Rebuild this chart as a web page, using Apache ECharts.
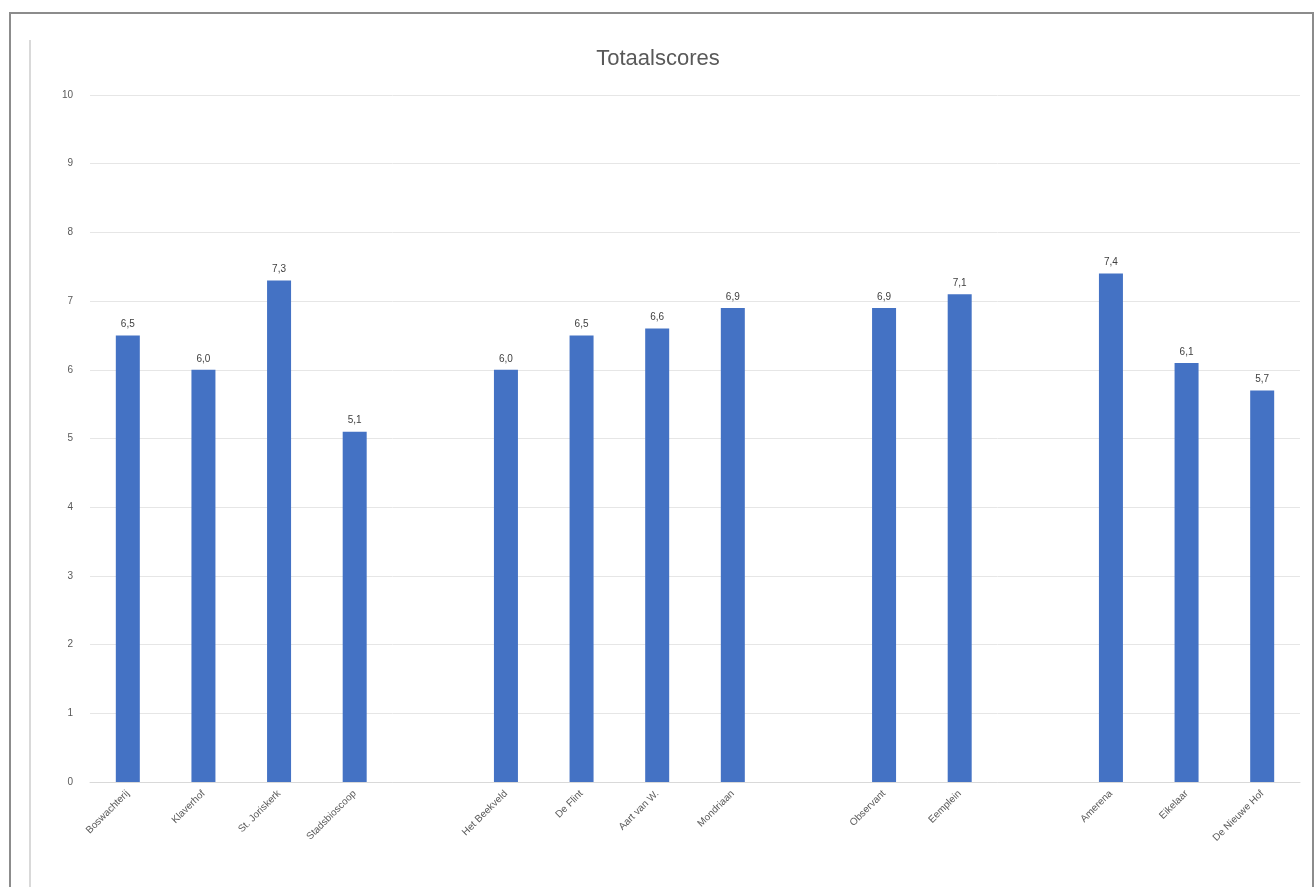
<!DOCTYPE html>
<html>
<head>
<meta charset="utf-8">
<script src="https://cdn.jsdelivr.net/npm/echarts@6/dist/echarts.min.js"></script>
<style>
html,body{margin:0;padding:0;background:#fff;}
#c{width:1316px;height:887px;}
</style>
</head>
<body>
<div id="c"></div>
<script>
const categories = ["Boswachterij","Klaverhof","St. Joriskerk","Stadsbioscoop"," ","Het Beekveld","De Flint","Aart van W.","Mondriaan","  ","Observant","Eemplein","   ","Amerena","Eikelaar","De Nieuwe Hof"];
const values = [6.5, 6.0, 7.3, 5.1, null, 6.0, 6.5, 6.6, 6.9, null, 6.9, 7.1, null, 7.4, 6.1, 5.7];
const yTicks = [0,1,2,3,4,5,6,7,8,9,10];

const chart = echarts.init(document.getElementById('c'), null, {renderer:'canvas'});
chart.setOption({
  animation:false,
  backgroundColor:'#ffffff',
  title:{
    text:'Totaalscores',
    left:'center', top:43,
    textStyle:{fontFamily:'Liberation Sans, Arial, sans-serif', fontSize:22, fontWeight:'normal', color:'#595959'}
  },
  graphic:[
    {type:'rect', shape:{x:10,y:13,width:1303,height:900}, style:{fill:'none', stroke:'#8c8c8c', lineWidth:2}, silent:true},
    {type:'line', shape:{x1:30,y1:40,x2:30,y2:887}, style:{stroke:'#d9d9d9', lineWidth:2}, silent:true}
  ],
  grid:{left:90, right:16, top:95, bottom:105, containLabel:false},
  xAxis:{
    type:'category',
    data:categories,
    axisLine:{show:true, lineStyle:{color:'#d9d9d9', width:1}},
    axisTick:{show:false},
    axisLabel:{rotate:45, interval:0, margin:10, fontSize:10, color:'#595959', fontFamily:'Liberation Sans, Arial, sans-serif'}
  },
  yAxis:{
    type:'value', min:yTicks[0], max:yTicks[yTicks.length-1], interval:1,
    axisLine:{show:false}, axisTick:{show:false},
    splitLine:{lineStyle:{color:'#e6e6e6', width:1}},
    axisLabel:{margin:17, fontSize:10, color:'#595959', fontFamily:'Liberation Sans, Arial, sans-serif'}
  },
  series:[{
    type:'bar',
    data:values,
    barWidth:24,
    itemStyle:{color:'#4472C4'},
    label:{
      show:true, position:'top', distance:6, fontSize:10, color:'#404040',
      fontFamily:'Liberation Sans, Arial, sans-serif',
      formatter:p => p.value==null ? '' : p.value.toFixed(1).replace('.', ',')
    }
  }]
});
</script>
</body>
</html>
